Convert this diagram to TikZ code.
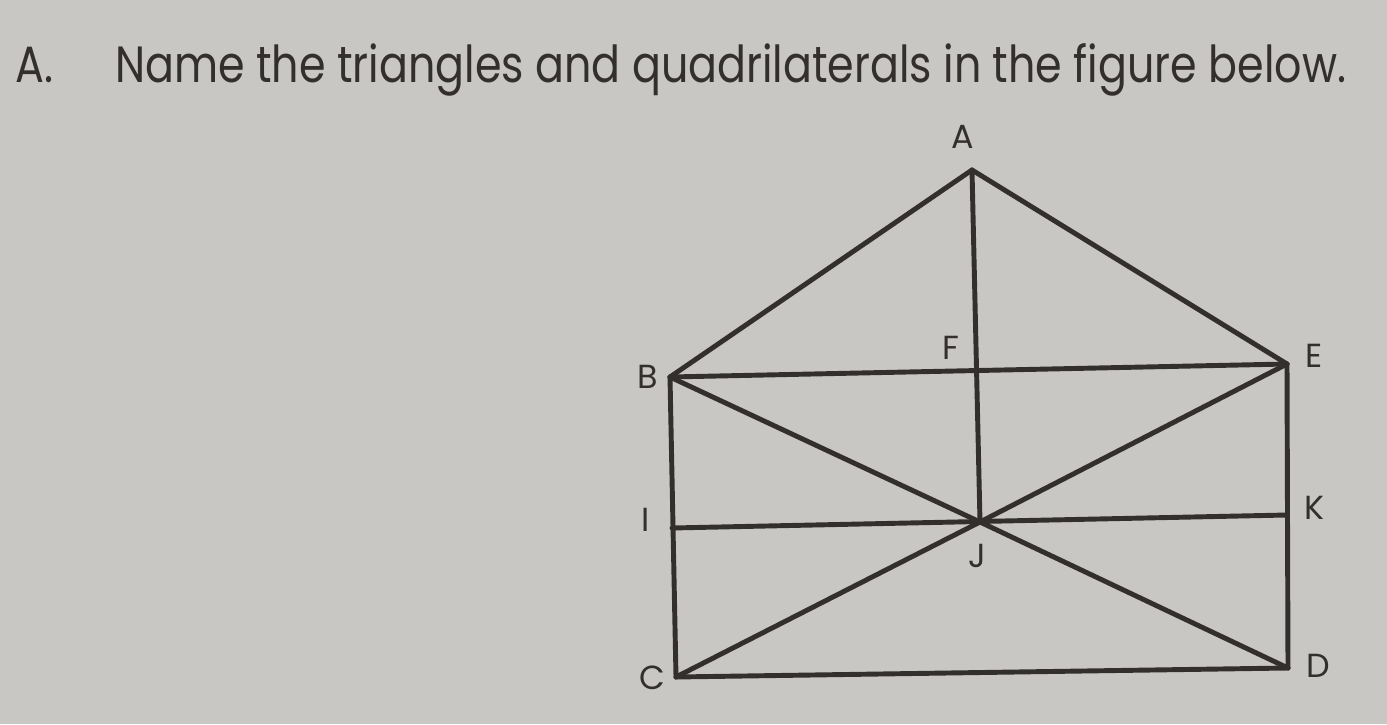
\documentclass[tikz,border=0pt]{standalone}
\usepackage{fontspec}
\setmainfont{Poppins}
\definecolor{paper}{RGB}{201,199,195}
\definecolor{ink}{RGB}{50,47,45}
\begin{document}
\begin{tikzpicture}[x=0.02cm,y=-0.02cm,
    seg/.style={draw=ink,line width=2.8pt,line cap=round,line join=round},
    vlabel/.style={text=ink,font=\fontsize{19}{19}\selectfont},
    title/.style={text=ink,font=\fontsize{29}{29}\selectfont,anchor=base west,inner sep=0pt,xscale=0.84,transform shape}]
  \fill[paper] (0,0) rectangle (1387,724);
  \useasboundingbox (0,0) rectangle (1387,724);
  \node[title] (num) at (15,82) {A.};
  \node[title] (head) at (115,82) {Name the triangles and quadrilaterals in the figure below.};
  \path
    (972,170) coordinate (A)
    (670,377) coordinate (B)
    (1287,364) coordinate (E)
    (975,372) coordinate (F)
    (980,522) coordinate (J)
    (672,528) coordinate (I)
    (1287,515) coordinate (K)
    (676,677) coordinate (C)
    (1288,668) coordinate (D);
  \draw
    (963,137) node[vlabel] (lA){A}
    (648,377) node[vlabel] (lB){B}
    (1314,356) node[vlabel] (lE){E}
    (951,348) node[vlabel] (lF){F}
    (646,520) node[vlabel] (lI){I}
    (1314,508) node[vlabel] (lK){K}
    (977,556) node[vlabel] (lJ){J}
    (652,678) node[vlabel] (lC){C}
    (1318,666) node[vlabel] (lD){D};
  \begin{scope}[seg]
    \draw (B) to (A);
    \draw (A) to (E);
    \draw (B) to (E);
    \draw (A) to (J);
    \draw (B) to (J);
    \draw (J) to (E);
    \draw (I) to (K);
    \draw (C) to (J);
    \draw (J) to (D);
    \draw (B) to (C);
    \draw (E) to (D);
    \draw (C) to (D);
  \end{scope}
\end{tikzpicture}
\end{document}
